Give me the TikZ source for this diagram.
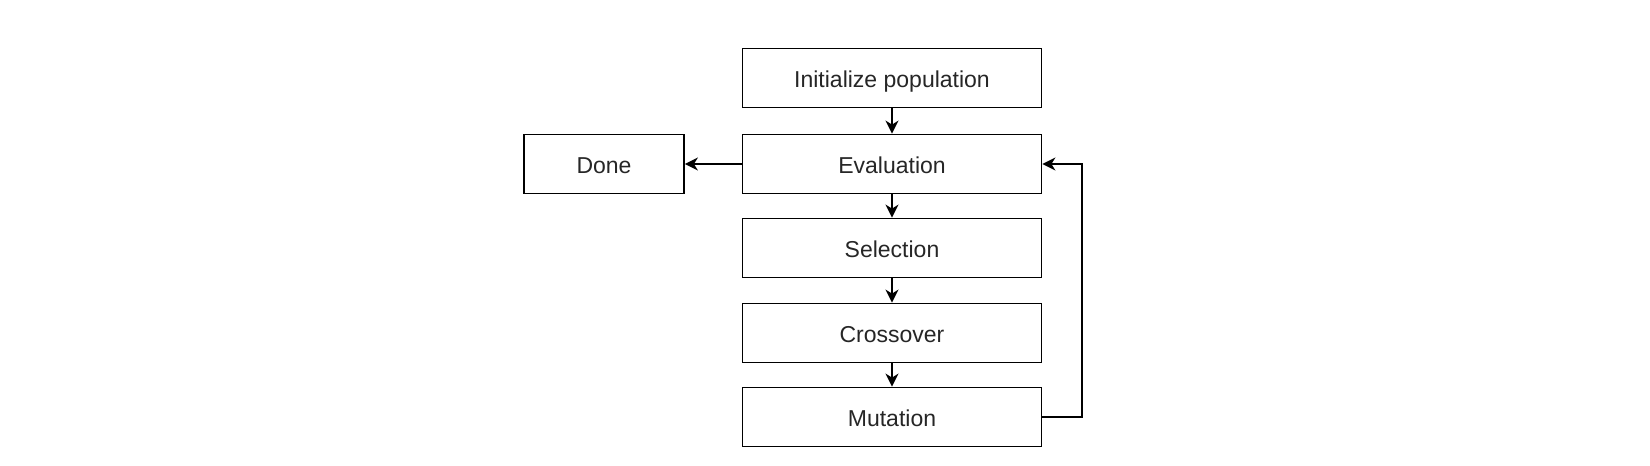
\documentclass[tikz,border=0pt]{standalone}
\usepackage{fontspec}
\setmainfont{Liberation Sans}
\usetikzlibrary{arrows.meta}
\begin{document}
\begin{tikzpicture}[x=1pt,y=-1pt,
  box/.style={draw, line width=1.8pt, minimum width=299pt, minimum height=59pt, inner sep=0pt, text height=18pt, text depth=0pt, font=\fontsize{23}{26}\selectfont, text=black!85},
  conn/.style={line width=2pt, -{Stealth[length=13pt,width=13pt,inset=4pt]}}]
\useasboundingbox (0,0) rectangle (1650,466);
\node[box] (init) at (892,78) {Initialize population};
\node[box] (eval) at (892,164) {Evaluation};
\node[box, minimum width=160pt] (done) at (604,164) {Done};
\node[box] (sel) at (892,248) {Selection};
\node[box] (cross) at (892,333) {Crossover};
\node[box] (mut) at (892,417) {Mutation};
\coordinate (c1) at (1082,417);
\coordinate (c2) at (1082,164);
\draw[conn] (init) -- (eval);
\draw[conn] (eval) -- (done);
\draw[conn] (eval) -- (sel);
\draw[conn] (sel) -- (cross);
\draw[conn] (cross) -- (mut);
\draw[conn] (mut.east) -- (c1) -- (c2) -- (eval.east);
\end{tikzpicture}
\end{document}
